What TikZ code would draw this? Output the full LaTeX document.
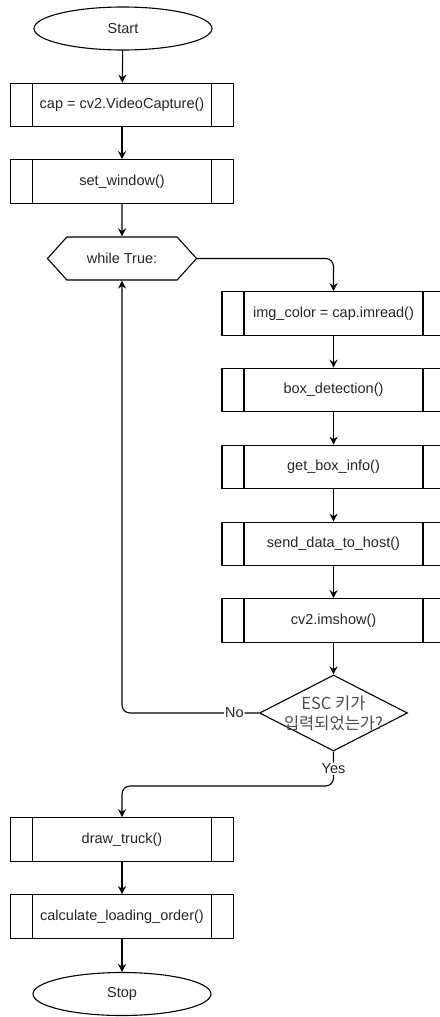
\documentclass[tikz,border=0pt]{standalone}
\usepackage{fontspec}
\setmainfont{Liberation Sans}
\newfontfamily\krfont{Noto Sans CJK KR}
\usetikzlibrary{arrows.meta,shapes.geometric,shapes.symbols}

\tikzset{
  every node/.style = {font=\fontsize{14.5}{17}\selectfont, text=black!85},
  flow/.style = {draw, line width=1.1pt, -{Stealth[length=8pt,width=8pt]}},
  term/.style = {draw, line width=1.1pt, ellipse, minimum width=178pt, minimum height=43pt, inner sep=0pt},
  proc/.style = {draw, line width=1.1pt, rectangle, minimum width=223pt, minimum height=43.5pt, inner sep=0pt,
    path picture={
      \draw[line width=1.1pt] ([xshift=22pt]path picture bounding box.north west) -- ([xshift=22pt]path picture bounding box.south west);
      \draw[line width=1.1pt] ([xshift=-22pt]path picture bounding box.north east) -- ([xshift=-22pt]path picture bounding box.south east);
    }},
  prep/.style = {draw, line width=1.1pt, signal, signal to=west and east, signal pointer angle=96,
    minimum width=149pt, minimum height=43pt, inner sep=0pt},
  decision/.style = {draw, line width=1.1pt, diamond, minimum width=148pt, minimum height=76pt, inner sep=0pt},
  answer/.style = {fill=white, inner sep=1pt}
}

\begin{document}
\begin{tikzpicture}[x=1pt, y=-1pt]
  \useasboundingbox (0,0) rectangle (439,1017);
  % left column
  \node (start) [term] at (123, 28.5) {Start};
  \node (cap) [proc] at (122, 105) {cap = cv2.VideoCapture()};
  \node (setw) [proc] at (122, 181.5) {set\_window()};
  \node (loop) [prep] at (122, 258.5) {while True:};
  % loop body
  \node (read) [proc] at (333.5, 313.5) {img\_color = cap.imread()};
  \node (detect) [proc] at (333.5, 390) {box\_detection()};
  \node (info) [proc] at (333.5, 467) {get\_box\_info()};
  \node (send) [proc] at (333.5, 544) {send\_data\_to\_host()};
  \node (show) [proc] at (333.5, 620.5) {cv2.imshow()};
  \node (esc) [decision, label={[align=center, text=black!70, font=\krfont\fontsize{16.5}{20}\selectfont]center:ESC 키가\\입력되었는가?}] at (333.5, 713) {};
  % after the loop
  \coordinate (yes) at (333.5, 786);
  \node (truck) [proc] at (122, 839.5) {draw\_truck()};
  \node (order) [proc] at (122, 916.5) {calculate\_loading\_order()};
  \node (stop) [term] at (122, 994) {Stop};

  \draw [flow] (start) -- (cap);
  \draw [flow] (cap) -- (setw);
  \draw [flow] (setw) -- (loop);
  \draw [flow, rounded corners=8pt] (loop.east) -| (read.north);
  \draw [flow] (read) -- (detect);
  \draw [flow] (detect) -- (info);
  \draw [flow] (info) -- (send);
  \draw [flow] (send) -- (show);
  \draw [flow] (show) -- (esc);
  \draw [flow, rounded corners=8pt] (esc.west) -| node [answer, pos=0.09] {No} (loop.south);
  \draw [flow, rounded corners=8pt] (esc.south) -- node [answer] {Yes} (yes) -| (truck.north);
  \draw [flow] (truck) -- (order);
  \draw [flow] (order) -- (stop);
\end{tikzpicture}
\end{document}
